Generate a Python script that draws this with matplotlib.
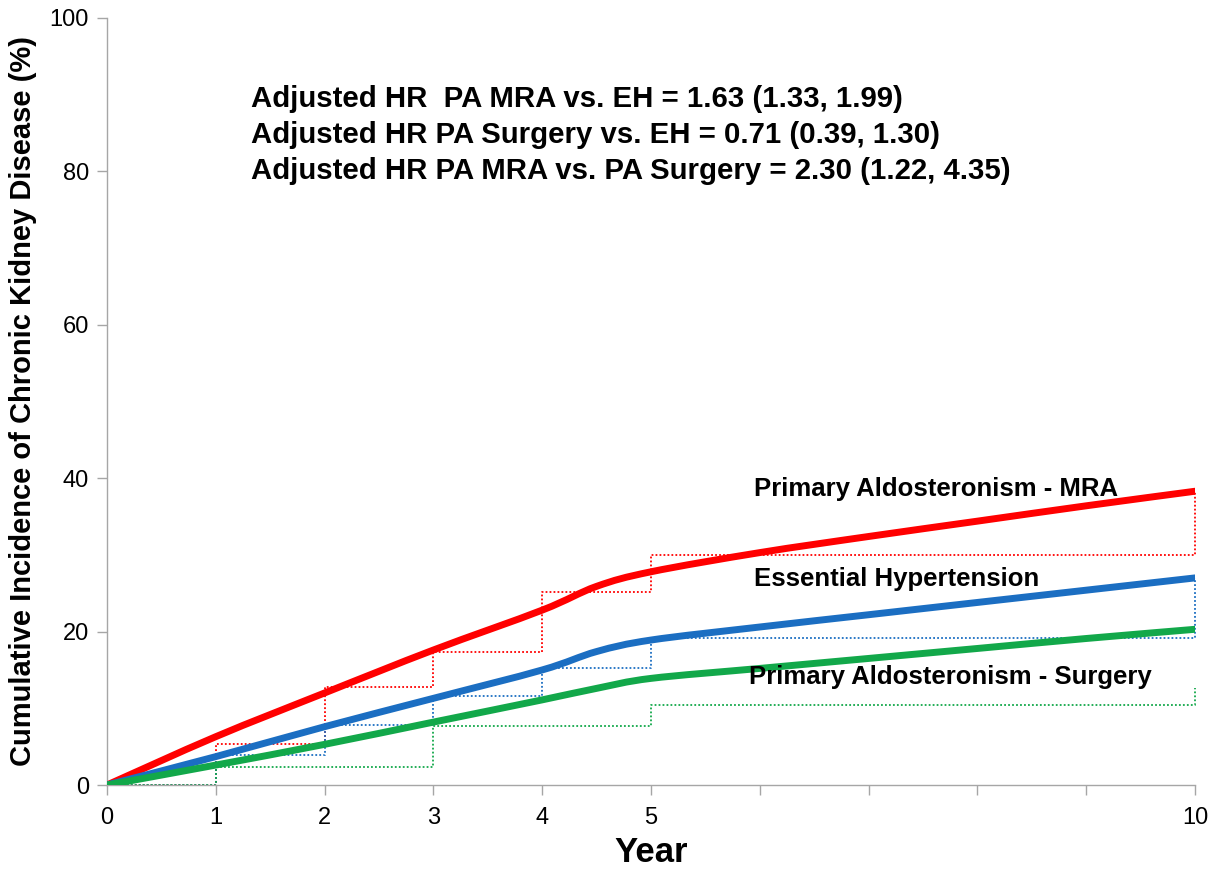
"""Cumulative incidence of CKD by treatment group."""
import os
import numpy as np
import matplotlib.pyplot as plt
from matplotlib import font_manager as fm
from matplotlib.path import Path
from matplotlib.patches import PathPatch

# Smoothed cumulative incidence curves (%)
years = [0, 1, 2, 3, 4, 4.5, 5, 6, 7, 8, 9, 10]
mra = [0, 6.3, 12.0, 17.6, 22.8, 25.9, 27.8, 30.3, 32.4, 34.4, 36.4, 38.3]
eh = [0, 3.7, 7.6, 11.3, 15.0, 17.4, 18.9, 20.6, 22.2, 23.8, 25.4, 27.0]
surgery = [0, 2.6, 5.3, 8.2, 11.1, 12.6, 13.9, 15.2, 16.5, 17.8, 19.1, 20.3]

# Yearly step estimates (%), drawn dotted
step_years = [0, 1, 2, 3, 4, 5, 10]
mra_steps = [0, 5.4, 12.8, 17.3, 25.2, 30.0, 38.3]
eh_steps = [0, 3.9, 7.8, 11.6, 15.3, 19.2, 27.0]
surgery_steps = [0, 2.4, 2.4, 7.7, 7.7, 10.4, 12.6]

hr_lines = [
    "Adjusted HR  PA MRA vs. EH = 1.63 (1.33, 1.99)",
    "Adjusted HR PA Surgery vs. EH = 0.71 (0.39, 1.30)",
    "Adjusted HR PA MRA vs. PA Surgery = 2.30 (1.22, 4.35)",
]

RED = "#FF0000"
BLUE = "#1B6EC2"
GREEN = "#12A84A"


def font_file(name, fallback):
    """Return FontProperties for a font file, or a family fallback."""
    for path in fm.findSystemFonts():
        if os.path.basename(path) == name:
            return fm.FontProperties(fname=path)
    return fm.FontProperties(family="Liberation Sans", weight=fallback)


def sized(fp, size):
    fp = fp.copy()
    fp.set_size(size)
    return fp


def smooth_path(x, y):
    """Bezier path through the points, like a spreadsheet smoothed line."""
    pts = np.column_stack([x, y]).astype(float)
    n = len(pts)
    verts = [pts[0]]
    codes = [Path.MOVETO]
    for i in range(n - 1):
        p0 = pts[max(i - 1, 0)]
        p1, p2 = pts[i], pts[i + 1]
        p3 = pts[min(i + 2, n - 1)]
        verts += [p1 + (p2 - p0) / 6, p2 - (p3 - p1) / 6, p2]
        codes += [Path.CURVE4] * 3
    return Path(verts, codes)


BOLD = font_file("LiberationSans-Bold.ttf", "bold")
REGULAR = font_file("LiberationSans-Regular.ttf", "normal")
NARROW = font_file("LiberationSansNarrow-Bold.ttf", "bold")

fig = plt.figure(figsize=(12.24, 8.73), dpi=100)
ax = fig.add_axes([107 / 1224, 1 - 785 / 873, (1195 - 107) / 1224, (785 - 18) / 873])

for xs, ys, c in [(step_years, mra_steps, RED),
                  (step_years, eh_steps, BLUE),
                  (step_years, surgery_steps, GREEN)]:
    ax.step(xs, ys, where="post", color=c, lw=1.3, ls=(0, (1, 1.2)),
            zorder=2, clip_on=False)

for ys, c in [(mra, RED), (eh, BLUE), (surgery, GREEN)]:
    ax.add_patch(PathPatch(smooth_path(years, ys), fill=False, edgecolor=c,
                           lw=5, joinstyle="round", capstyle="round",
                           zorder=3))

ax.set_xlim(0, 10)
ax.set_ylim(0, 100)
ax.set_xticks([0, 1, 2, 3, 4, 5, 10])
ax.set_xticks([6, 7, 8, 9], minor=True)
ax.set_yticks(range(0, 101, 20))
ax.tick_params(axis="both", which="both", color="#A6A6A6", length=7,
               width=1, pad=6)
ax.tick_params(axis="x", pad=9)
for lab in ax.get_xticklabels() + ax.get_yticklabels():
    lab.set_fontproperties(sized(REGULAR, 17))

for side in ("top", "right"):
    ax.spines[side].set_visible(False)
for side in ("left", "bottom"):
    ax.spines[side].set_color("#A6A6A6")
    ax.spines[side].set_linewidth(1)

ax.set_xlabel("Year", fontproperties=sized(BOLD, 25), labelpad=5)
ax.set_ylabel("Cumulative Incidence of Chronic Kidney Disease (%)",
              fontproperties=sized(NARROW, 21), labelpad=9)

for i, line in enumerate(hr_lines):
    ax.text(1.32, 89.4 - i * 4.65, line, fontproperties=sized(BOLD, 21.2),
            va="center", ha="left")

label_fp = sized(BOLD, 18.5)
ax.text(5.95, 38.6, "Primary Aldosteronism - MRA", fontproperties=label_fp,
        va="center")
ax.text(5.95, 26.9, "Essential Hypertension", fontproperties=label_fp,
        va="center")
ax.text(5.9, 14.1, "Primary Aldosteronism - Surgery", fontproperties=label_fp,
        va="center")

fig.savefig("out.png", dpi=100)
